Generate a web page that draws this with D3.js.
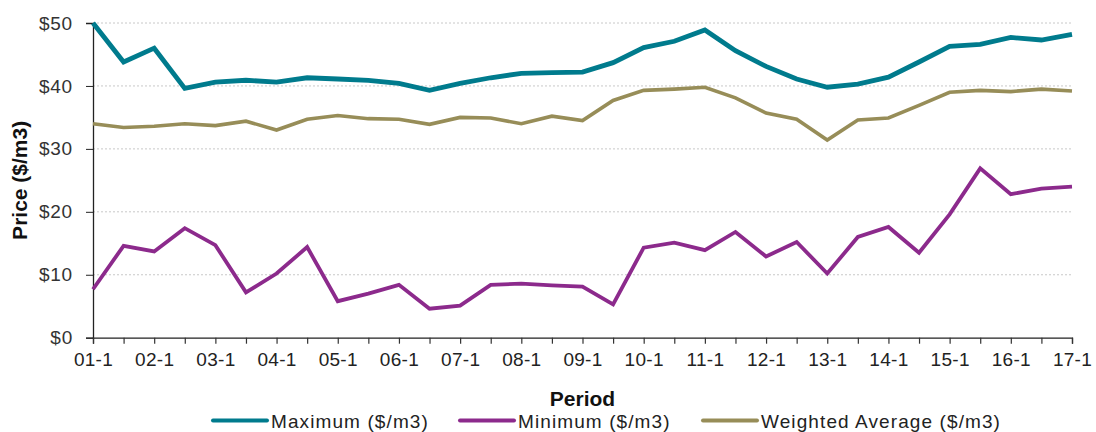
<!DOCTYPE html>
<html><head><meta charset="utf-8">
<script src="https://cdn.jsdelivr.net/npm/d3@7"></script>
<style>
body{margin:0;background:#fff;}
svg text{font-family:"Liberation Sans",Arial,sans-serif;}
</style></head>
<body><svg id="c" width="1096" height="432"></svg>
<script>
const periods = ["01-1","01-2","02-1","02-2","03-1","03-2","04-1","04-2","05-1","05-2","06-1","06-2","07-1","07-2","08-1","08-2","09-1","09-2","10-1","10-2","11-1","11-2","12-1","12-2","13-1","13-2","14-1","14-2","15-1","15-2","16-1","16-2","17-1"];
const maximum = [50.0,43.8,46.0,39.6,40.6,40.9,40.6,41.3,41.1,40.9,40.4,39.3,40.4,41.3,42.0,42.1,42.2,43.7,46.1,47.1,48.9,45.6,43.1,41.1,39.8,40.3,41.4,43.8,46.3,46.6,47.7,47.3,48.2];
const minimum = [7.7,14.6,13.7,17.4,14.7,7.2,10.2,14.4,5.8,7.0,8.4,4.6,5.1,8.4,8.6,8.3,8.1,5.3,14.3,15.1,13.9,16.8,12.9,15.2,10.2,16.0,17.6,13.5,19.6,26.9,22.8,23.7,24.0];
const weighted = [34.0,33.4,33.6,34.0,33.7,34.4,33.0,34.7,35.3,34.8,34.7,33.9,35.0,34.9,34.0,35.2,34.5,37.7,39.3,39.5,39.8,38.1,35.7,34.7,31.4,34.6,34.9,36.9,39.0,39.3,39.1,39.5,39.2];
const yTicks = [0,10,20,30,40,50];
const seriesNames = ["Maximum ($/m3)","Minimum ($/m3)","Weighted Average ($/m3)"];
const seriesColors = ["#007B8D","#8C2A8C","#978D58"];
const seriesWidths = [4.8,3.8,3.6];

const svg = d3.select("#c");
const L = 93, R = 1072, T = 23, B = 337.7;
const x = d3.scalePoint().domain(periods).range([L, R]);
const y = d3.scaleLinear().domain([0, 50]).range([B, T]);

// grid
svg.append("g").selectAll("line").data(yTicks.filter(d => d > 0)).join("line")
  .attr("x1", L).attr("x2", R).attr("y1", d => y(d)).attr("y2", d => y(d))
  .attr("stroke", "#c8c8c8").attr("stroke-width", 1).attr("stroke-dasharray", "2,2");

// y axis
const ya = svg.append("g").attr("transform", `translate(${L},0)`)
  .call(d3.axisLeft(y).tickValues(yTicks).tickFormat(d => "$" + d).tickSize(7).tickPadding(13));
ya.select(".domain").attr("stroke", "#222").attr("stroke-width", 1.3);
ya.selectAll(".tick line").attr("stroke", "#222");
ya.selectAll("text").attr("font-size", 19).attr("fill", "#333").attr("letter-spacing", 0.8)
  .attr("font-family", "Liberation Sans, Arial, sans-serif");

// x axis
const xa = svg.append("g").attr("transform", `translate(0,${B})`)
  .call(d3.axisBottom(x).tickSizeOuter(0).tickSize(6).tickPadding(9)
    .tickFormat(d => d.endsWith("-1") ? d : ""));
xa.select(".domain").attr("stroke", "#222").attr("stroke-width", 1.3);
xa.selectAll(".tick line").attr("stroke", "#333").attr("stroke-width", 1.2);
xa.selectAll("text").attr("font-size", 19).attr("fill", "#222").attr("letter-spacing", 0.3)
  .attr("font-family", "Liberation Sans, Arial, sans-serif");

// lines
const data = [maximum, minimum, weighted];
const line = d3.line().x((d, i) => x(periods[i])).y(d => y(d));
const order = [2, 1, 0];
order.forEach(k => {
  svg.append("path").datum(data[k]).attr("d", line)
    .attr("fill", "none").attr("stroke", seriesColors[k]).attr("stroke-width", seriesWidths[k])
    .attr("stroke-linejoin", "miter").attr("stroke-linecap", "butt");
});

// axis titles
svg.append("text").attr("x", (L + R) / 2).attr("y", 406).attr("text-anchor", "middle")
  .attr("font-size", 21).attr("font-weight", "bold").attr("fill", "#111").text("Period");
svg.append("text").attr("transform", `translate(27,${(T + B) / 2}) rotate(-90)`).attr("text-anchor", "middle")
  .attr("font-size", 21).attr("font-weight", "bold").attr("fill", "#111").text("Price ($/m3)");

// legend
const legX = [213, 460, 703];
const lg = svg.append("g");
seriesNames.forEach((n, i) => {
  lg.append("line").attr("x1", legX[i]).attr("x2", legX[i] + 54).attr("y1", 420.5).attr("y2", 420.5)
    .attr("stroke", seriesColors[i]).attr("stroke-width", 4).attr("stroke-linecap", "round");
  lg.append("text").attr("x", legX[i] + 58).attr("y", 427.5).attr("font-size", 19).attr("fill", "#222")
    .attr("letter-spacing", 1.1).text(n);
});
</script></body></html>
